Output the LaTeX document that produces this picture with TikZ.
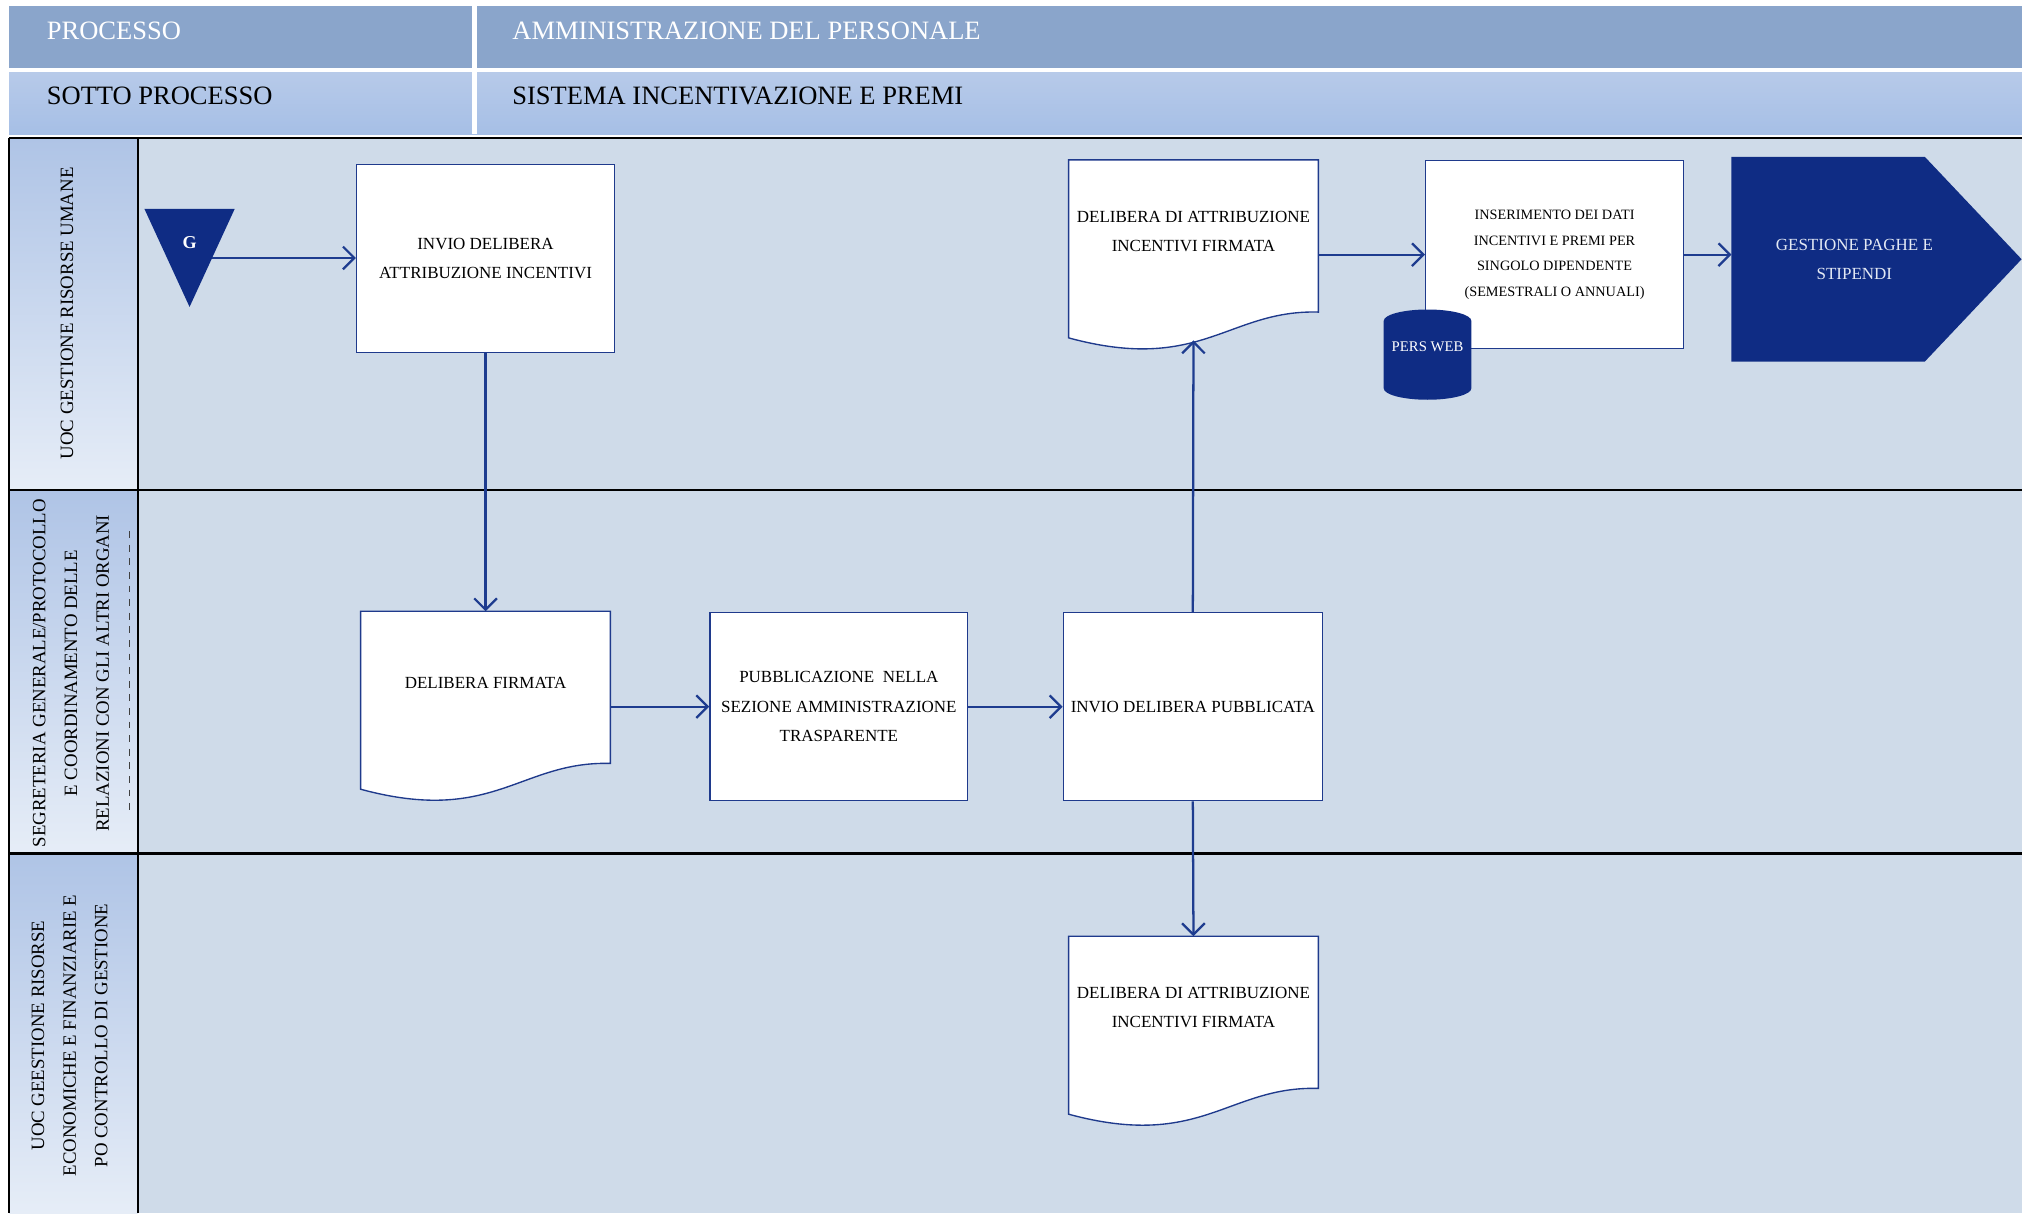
\documentclass[tikz,border=0pt]{standalone}
\usepackage{fontspec}
\setmainfont{Liberation Serif}
\usetikzlibrary{arrows.meta,shapes.geometric,calc,backgrounds}
\definecolor{hdrdark}{HTML}{8AA5CB}
\definecolor{hdrtop}{HTML}{B7CAE9}
\definecolor{hdrbot}{HTML}{A6BFE6}
\definecolor{lanebg}{HTML}{CFDBE9}
\definecolor{lbltop}{HTML}{AFC4E6}
\definecolor{lblbot}{HTML}{E6EDF7}
\definecolor{navy}{HTML}{0F2C84}
\definecolor{flow}{HTML}{1E3C8F}
\definecolor{boxline}{HTML}{1F3A8C}
\definecolor{paletxt}{HTML}{E3E9F4}

\begin{document}
\begin{tikzpicture}[x=0.02cm,y=-0.02cm]
\tikzstyle{box}=[rectangle, draw=boxline, line width=0.6pt, fill=white, minimum width=4cm, minimum height=2.92cm, align=center, font=\fontsize{7.5}{13}\selectfont]
\tikzstyle{doc}=[rectangle, minimum width=3.86cm, minimum height=2.2cm, anchor=north, align=center, font=\fontsize{7.5}{13}\selectfont]
\tikzstyle{flowarrow}=[draw=flow, line width=1pt, -{Straight Barb[length=5pt,width=10pt]}]
\tikzstyle{laneline}=[black, line width=1.2pt]
\tikzstyle{lanetxt}=[rotate=90, align=center, font=\fontsize{8.3}{14}\selectfont]
\tikzstyle{hdrtxt}=[anchor=west, inner sep=0pt, font=\fontsize{11.7}{13}\selectfont]
\useasboundingbox (0,0) rectangle (1568,941);

% header
\fill[hdrdark] (7,5) rectangle (1568,53);
\shade[top color=hdrtop, bottom color=hdrbot] (7,56) rectangle (1568,104);
\fill[white] (366,5) rectangle (370,104);
\node (proc) [hdrtxt, white] at (36,24) {PROCESSO};
\node (procval) [hdrtxt, white] at (397,24) {AMMINISTRAZIONE DEL PERSONALE};
\node (sotto) [hdrtxt] at (36,74) {SOTTO PROCESSO};
\node (sottoval) [hdrtxt] at (397,74) {SISTEMA INCENTIVAZIONE E PREMI};

% lanes
\begin{scope}[on background layer]
\fill[lanebg] (107,107) rectangle (1568,941);
\foreach \t/\b in {107/380,380/662,662/941}
  \shade[top color=lbltop, bottom color=lblbot] (7,\t) rectangle (107,\b);
\end{scope}
\draw[laneline] (7,107) -- (1568,107);
\draw[laneline] (7,380) -- (1568,380);
\draw[laneline] (7,662) -- (1568,662);
\draw[laneline] (7,107) -- (7,941);
\draw[laneline] (107,107) -- (107,941);
\node (lane1) [lanetxt] at (52,243) {UOC GESTIONE RISORSE UMANE};
\node (lane2) [lanetxt] at (55,522) {SEGRETERIA GENERALE/PROTOCOLLO\\E COORDINAMENTO DELLE\\RELAZIONI CON GLI ALTRI ORGANI};
\draw[dashed, gray!50!black, line width=0.4pt] (100,412) -- (100,632);
\node (lane3) [lanetxt] at (54,803) {UOC GEESTIONE RISORSE\\ECONOMICHE E FINANZIARIE E\\PO CONTROLLO DI GESTIONE};

% start
\fill[navy] (112,162) -- (182,162) -- (147,238) -- cycle;
\coordinate (gout) at ($(182,162)!0.5!(147,238)$);
\node (g) [white, font=\bfseries\fontsize{8}{9}\selectfont] at (147,188) {G};

% steps
\node (box1) [box] at (376.5,200.5) {INVIO DELIBERA\\ATTRIBUZIONE INCENTIVI};
\node (doc1) [doc] at (376.5,474) {DELIBERA FIRMATA};
\node (box2) [box] at (650.5,548) {PUBBLICAZIONE\ \ NELLA\\SEZIONE AMMINISTRAZIONE\\TRASPARENTE};
\node (box3) [box] at (925,548) {INVIO DELIBERA PUBBLICATA};
\node (doc2) [doc] at (925.5,124) {DELIBERA DI ATTRIBUZIONE\\INCENTIVI FIRMATA};
\node (doc3) [doc] at (925.5,726) {DELIBERA DI ATTRIBUZIONE\\INCENTIVI FIRMATA};
\node (box4) [box, font=\fontsize{6.3}{11.3}\selectfont] at (1205.5,197.5) {INSERIMENTO DEI DATI\\INCENTIVI E PREMI PER\\SINGOLO DIPENDENTE\\(SEMESTRALI O ANNUALI)};
\node (persweb) [cylinder, shape border rotate=90, aspect=0.3, fill=navy, text=white, minimum width=1.36cm, minimum height=1.4cm, inner sep=1pt, font=\fontsize{6.5}{8}\selectfont] at (1107,281) {\raisebox{6.8pt}[\height][\depth]{PERS WEB}};
\node (paghe) [minimum width=3.8cm, minimum height=3.16cm, align=center, text=paletxt, font=\fontsize{7.5}{13}\selectfont] at (1438,201) {GESTIONE PAGHE E\\STIPENDI};

\begin{scope}[on background layer]
\foreach \d in {doc1,doc2,doc3}
  \draw[boxline, line width=0.6pt, fill=white] (\d.north west) -- (\d.north east) -- ($(\d.north east)+(0,118)$) .. controls ($(\d.north east)+(-70,116)$) and ($(\d.north west)+(103,166)$) .. ($(\d.north west)+(0,138)$) -- cycle;
\fill[navy] (paghe.north west) -- ($(paghe.north west)+(150,0)$) -- ($(paghe.west)+(225,0)$) -- ($(paghe.south west)+(150,0)$) -- (paghe.south west) -- cycle;
\end{scope}

% connectors
\draw[flowarrow] (gout) -- (gout -| box1.west);
\draw[flowarrow] (box1.south) -- (doc1.north);
\draw[flowarrow] (doc1.east |- box2.west) -- (box2.west);
\draw[flowarrow] (box2.east) -- (box3.west);
\draw[flowarrow] (box3.north) -- ($(doc2.north)+(0,140)$);
\draw[flowarrow] (doc2.east |- box4.west) -- (box4.west);
\draw[flowarrow] (box4.east) -- (box4.east -| paghe.west);
\draw[flowarrow] (box3.south) -- (doc3.north);
\end{tikzpicture}
\end{document}
